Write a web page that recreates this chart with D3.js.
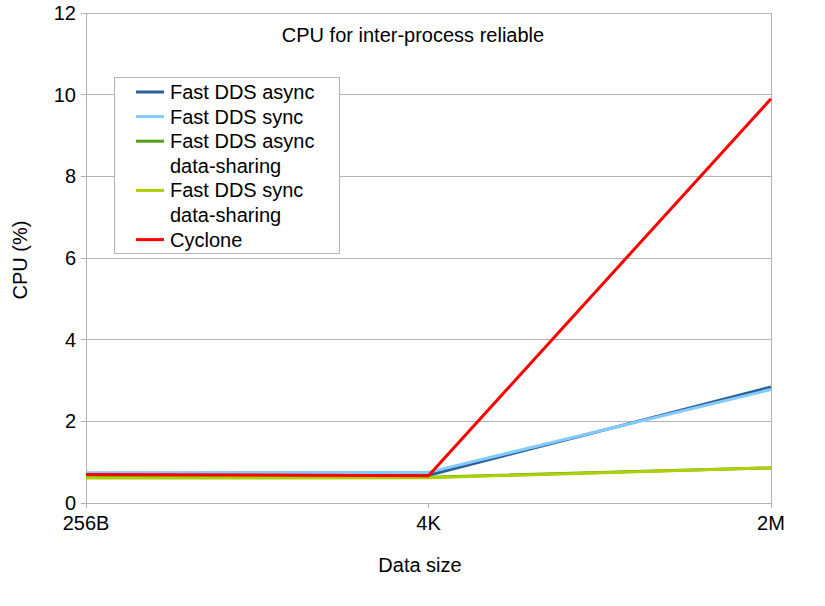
<!DOCTYPE html>
<html><head><meta charset="utf-8">
<script src="https://cdn.jsdelivr.net/npm/d3@7"></script>
<style>body{margin:0;background:#fff}svg{font-family:"Liberation Sans",Arial,sans-serif}</style>
</head><body><svg id="c" width="825" height="606"></svg>
<script>
const categories = ["256B", "4K", "2M"];
const seriesNames = ["Fast DDS async", "Fast DDS sync", "Fast DDS async\ndata-sharing", "Fast DDS sync\ndata-sharing", "Cyclone"];
const fastAsync = [0.70, 0.68, 2.84];
const fastSync = [0.74, 0.75, 2.78];
const fastAsyncDS = [0.63, 0.63, 0.86];
const fastSyncDS = [0.61, 0.62, 0.86];
const cyclone = [0.70, 0.67, 9.90];
const yTicks = [0, 2, 4, 6, 8, 10, 12];
const colors = ["#2a6099", "#83caff", "#579d1c", "#aecf00", "#ff0000"];
const seriesValues = [fastAsync, fastSync, fastAsyncDS, fastSyncDS, cyclone];

const svg = d3.select("#c");
const L = 86, R = 771, T = 13, B = 503;
const FS = 20;
const x = d3.scalePoint().domain(categories).range([L, R]);
const y = d3.scaleLinear().domain([0, 12]).range([B, T]);

// gridlines
svg.append("g").selectAll("line").data(yTicks).join("line")
  .attr("x1", L - 5).attr("x2", R).attr("y1", d => y(d)).attr("y2", d => y(d))
  .attr("stroke", "#b3b3b3").attr("stroke-width", 1).attr("shape-rendering", "crispEdges");
// y axis labels
svg.append("g").selectAll("text").data(yTicks).join("text")
  .attr("x", L - 10).attr("y", d => y(d) + 7).attr("text-anchor", "end")
  .attr("font-size", FS).attr("fill", "#000").text(d => d);
// axes lines
svg.append("line").attr("x1", L).attr("x2", L).attr("y1", T).attr("y2", B + 5)
  .attr("stroke", "#b3b3b3").attr("shape-rendering", "crispEdges");
svg.append("line").attr("x1", R).attr("x2", R).attr("y1", T).attr("y2", B + 5)
  .attr("stroke", "#b3b3b3").attr("shape-rendering", "crispEdges");
// x ticks
svg.append("g").selectAll("line").data(categories).join("line")
  .attr("x1", d => x(d)).attr("x2", d => x(d)).attr("y1", B).attr("y2", B + 5)
  .attr("stroke", "#b3b3b3").attr("shape-rendering", "crispEdges");
svg.append("g").selectAll("text").data(categories).join("text")
  .attr("x", d => x(d)).attr("y", B + 27).attr("text-anchor", "middle")
  .attr("font-size", FS).attr("fill", "#000").text(d => d);

// lines
const line = d3.line().x((d, i) => x(categories[i])).y(d => y(d));
svg.append("g").selectAll("path").data(seriesValues).join("path")
  .attr("d", d => line(d)).attr("fill", "none")
  .attr("stroke", (d, i) => colors[i]).attr("stroke-width", 3)
  .attr("stroke-linejoin", "round");

// title & axis titles
svg.append("text").attr("x", 413).attr("y", 42).attr("text-anchor", "middle")
  .attr("font-size", FS).text("CPU for inter-process reliable");
svg.append("text").attr("transform", "translate(27,260) rotate(-90)").attr("text-anchor", "middle")
  .attr("font-size", FS).text("CPU (%)");
svg.append("text").attr("x", 420).attr("y", 572).attr("text-anchor", "middle")
  .attr("font-size", FS).text("Data size");

// legend
const lg = svg.append("g");
lg.append("rect").attr("x", 114.5).attr("y", 77.5).attr("width", 225).attr("height", 176)
  .attr("fill", "#fff").attr("stroke", "#b3b3b3");
let row = 0;
const rowH = 24.6, y0 = 92;
seriesNames.forEach((name, i) => {
  const parts = name.split("\n");
  const cy = y0 + row * rowH;
  lg.append("line").attr("x1", 136).attr("x2", 164).attr("y1", cy).attr("y2", cy)
    .attr("stroke", colors[i]).attr("stroke-width", 3);
  parts.forEach((p, j) => {
    lg.append("text").attr("x", 170).attr("y", cy + 7 + j * rowH)
      .attr("font-size", FS).attr("fill", "#000").text(p);
  });
  row += parts.length;
});
</script></body></html>
